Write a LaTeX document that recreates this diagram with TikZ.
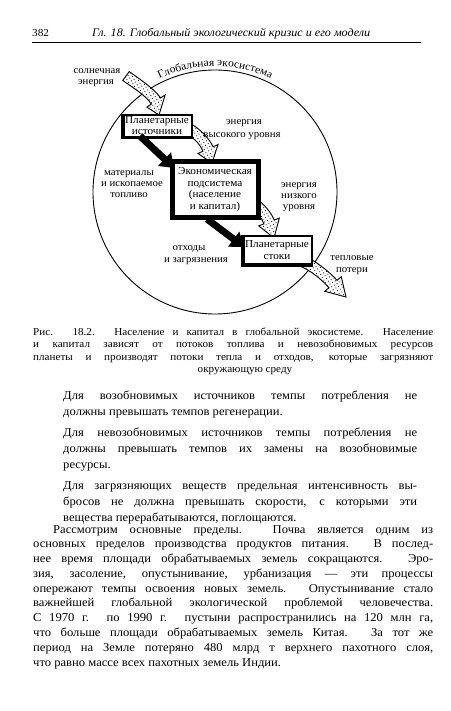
\documentclass[tikz,border=0pt]{standalone}
\usepackage{fontspec}
\setmainfont[FakeStretch=1.05]{Liberation Serif}
\usetikzlibrary{calc,arrows.meta,patterns.meta,decorations.text}
\newlength{\aw}\setlength{\aw}{5.5pt}
\newlength{\hw}\setlength{\hw}{11pt}
\newcommand{\fatarr}[6]{%
  \coordinate (#1S) at #2; \coordinate (#1a) at #3;
  \coordinate (#1b) at #4; \coordinate (#1E) at #5; \coordinate (#1T) at #6;
  \coordinate (#1Sl) at ($(#1S)!\aw!90:(#1a)$);
  \coordinate (#1Sr) at ($(#1S)!\aw!-90:(#1a)$);
  \coordinate (#1El) at ($(#1E)!\aw!-90:(#1b)$);
  \coordinate (#1Er) at ($(#1E)!\aw!90:(#1b)$);
  \coordinate (#1Hl) at ($(#1E)!\hw!-90:(#1b)$);
  \coordinate (#1Hr) at ($(#1E)!\hw!90:(#1b)$);
  \coordinate (#1al) at ($(#1a)+(#1Sl)-(#1S)$);
  \coordinate (#1ar) at ($(#1a)+(#1Sr)-(#1S)$);
  \coordinate (#1bl) at ($(#1b)+(#1El)-(#1E)$);
  \coordinate (#1br) at ($(#1b)+(#1Er)-(#1E)$);
  \fill[white] (#1Sl) .. controls (#1al) and (#1bl) .. (#1El) -- (#1Hl) -- (#1T) -- (#1Hr) -- (#1Er) .. controls (#1br) and (#1ar) .. (#1Sr) -- cycle;
  \draw[fatarrow] (#1Sl) .. controls (#1al) and (#1bl) .. (#1El) -- (#1Hl) -- (#1T) -- (#1Hr) -- (#1Er) .. controls (#1br) and (#1ar) .. (#1Sr) -- cycle;
}
\tikzset{
  fatarrow/.style={line width=0.9pt, pattern={Dots[distance=3.2pt,radius=0.6pt,angle=30]}, pattern color=black},
  blackarrow/.style={line width=7pt, -{Triangle[width=18pt,length=13pt]}},
  lab/.style={font=\fontsize{10.3}{12}\selectfont, inner sep=0pt, anchor=base},
  boxt/.style={font=\fontsize{10.7}{12}\selectfont, inner sep=0pt, anchor=base},
  bodyl/.style={font=\fontsize{12}{13}\selectfont, inner sep=0pt, anchor=base west},
  capl/.style={font=\fontsize{10.6}{12}\selectfont, inner sep=0pt, anchor=base west},
}
\newcommand{\jl}[5]{\node[#1] (#2) at #3 {\makebox[#4][s]{#5}};}
\begin{document}
\begin{tikzpicture}[x=1pt,y=-1pt]
\useasboundingbox[fill=white] (0,0) rectangle (450,711);
% header
\node[inner sep=0, anchor=base west, font=\fontsize{10.7}{12}\selectfont] (pg) at (32,37) {382};
\node[inner sep=0, anchor=base west, font=\itshape\fontsize{11.5}{13}\selectfont] (hd) at (92,37) {Гл. 18. Глобальный экологический кризис и его модели};
\coordinate (r1) at (32,42); \coordinate (r2) at (421,42);
\draw[line width=0.6pt] (r1) -- (r2);

% circle
\node[draw, circle, line width=0.9pt, minimum size=244pt, inner sep=0] (eco) at (215,192) {};
\path[decorate, decoration={text along path, text align=center,
  text={|\fontsize{11}{12}\selectfont|Глобальная экосистема}}]
  (215,192) ++(125:126pt) arc[start angle=125, end angle=55, radius=126pt];

% fat arrows
\fatarr{A}{(126,76)}{(137,84)}{(150,92)}{(156,101)}{(159,115)}
\fatarr{B}{(189,129)}{(197,134)}{(204,140)}{(208,149)}{(212,163)}
\fatarr{C}{(253,203)}{(260,208)}{(266,214)}{(269,222)}{(274,238)}
\fatarr{D}{(302,261)}{(312,265)}{(325,275)}{(333,284)}{(346,297)}

% boxes
\coordinate (b1a) at (122,115); \coordinate (b1b) at (192,138);
\fill[white] (b1a) rectangle (b1b);
\draw[line width=1.5pt] (b1a) rectangle (b1b);
\draw[line width=3.5pt] (123.5,114) -- (123.5,137.5) -- (192,137.5);
\node[boxt] (ps1) at (157,124) {Планетарные};
\node[boxt] (ps2) at (157,135) {источники};

\coordinate (b2a) at (172,162); \coordinate (b2b) at (258,218);
\fill[white] (b2a) rectangle (b2b);
\draw[line width=5pt] (b2a) rectangle (b2b);
\node[boxt] (ek1) at (215,175) {Экономическая};
\node[boxt] (ek2) at (215,187) {подсистема};
\node[boxt] (ek3) at (215,198) {(население};
\node[boxt] (ek4) at (215,210) {и капитал)};

\coordinate (b3a) at (242,236); \coordinate (b3b) at (312,266);
\fill[white] (b3a) rectangle (b3b);
\draw[line width=1.5pt] (b3a) rectangle (b3b);
\draw[line width=3.5pt] (243.5,235) -- (243.5,264.5) -- (312,264.5);
\node[boxt] (st1) at (277,247) {Планетарные};
\node[boxt] (st2) at (277,259) {стоки};

% black arrows
\coordinate (k1) at (140,136); \coordinate (k2) at (174,168);
\coordinate (k3) at (207,219); \coordinate (k4) at (244,247);
\draw[blackarrow] (k1) -- (k2);
\draw[blackarrow] (k3) -- (k4);

% labels
\node[lab] (l1) at (97,74) {солнечная};
\node[lab] (l2) at (96,85) {энергия};
\node[lab] (l3) at (244,125) {энергия};
\node[lab] (l4) at (242,138) {высокого уровня};
\node[lab] (l5) at (129,176) {материалы};
\node[lab] (l6) at (132,187) {и ископаемое};
\node[lab] (l7) at (129,198) {топливо};
\node[lab] (l8) at (189,250) {отходы};
\node[lab] (l9) at (196,262) {и загрязнения};
\node[lab] (l10) at (299,188) {энергия};
\node[lab] (l11) at (299,199) {низкого};
\node[lab] (l12) at (299,210) {уровня};
\node[lab] (l13) at (352,260) {тепловые};
\node[lab] (l14) at (352,272) {потери};

% caption
\jl{capl}{c1}{(33,335)}{400pt}{Рис. 18.2. Население и капитал в глобальной экосистеме. Население}
\jl{capl}{c2}{(33,347.5)}{400pt}{и капитал зависят от потоков топлива и невозобновимых ресурсов}
\jl{capl}{c3}{(33,360)}{400pt}{планеты и производят потоки тепла и отходов, которые загрязняют}
\node[capl, anchor=base] (c4) at (245,372) {окружающую среду};

% principles
\jl{bodyl}{p1}{(63,399)}{354pt}{Для возобновимых источников темпы потребления не}
\node[bodyl] (p2) at (63,415) {должны превышать темпов регенерации.};
\jl{bodyl}{p3}{(63,436)}{354pt}{Для невозобновимых источников темпы потребления не}
\jl{bodyl}{p4}{(63,452)}{354pt}{должны превышать темпов их замены на возобновимые}
\node[bodyl] (p5) at (63,468) {ресурсы.};
\jl{bodyl}{p6}{(63,489)}{354pt}{Для загрязняющих веществ предельная интенсивность вы-}
\jl{bodyl}{p7}{(63,505)}{354pt}{бросов не должна превышать скорости, с которыми эти}
\node[bodyl] (p8) at (63,521) {вещества перерабатываются, поглощаются.};

% main paragraph
\jl{bodyl}{m1}{(53,533)}{380pt}{Рассмотрим основные пределы. Почва является одним из}
\jl{bodyl}{m2}{(33,547.8)}{400pt}{основных пределов производства продуктов питания. В послед-}
\jl{bodyl}{m3}{(33,562.6)}{400pt}{нее время площади обрабатываемых земель сокращаются. Эро-}
\jl{bodyl}{m4}{(33,577.3)}{400pt}{зия, засоление, опустынивание, урбанизация — эти процессы}
\jl{bodyl}{m5}{(33,592.1)}{400pt}{опережают темпы освоения новых земель. Опустынивание стало}
\jl{bodyl}{m6}{(33,606.9)}{400pt}{важнейшей глобальной экологической проблемой человечества.}
\jl{bodyl}{m7}{(33,621.7)}{400pt}{С 1970 г. по 1990 г. пустыни распространились на 120 млн га,}
\jl{bodyl}{m8}{(33,636.4)}{400pt}{что больше площади обрабатываемых земель Китая. За тот же}
\jl{bodyl}{m9}{(33,651.2)}{400pt}{период на Земле потеряно 480 млрд т верхнего пахотного слоя,}
\node[bodyl] (m10) at (33,666) {что равно массе всех пахотных земель Индии.};
\end{tikzpicture}
\end{document}
